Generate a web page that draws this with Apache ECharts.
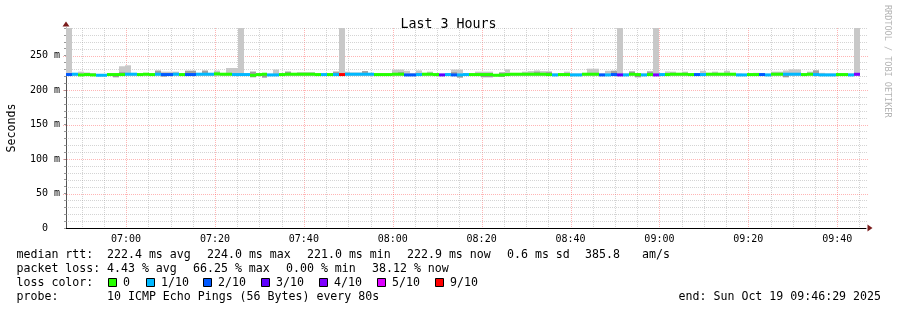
<!DOCTYPE html>
<html><head><meta charset="utf-8">
<script src="https://cdn.jsdelivr.net/npm/echarts@6/dist/echarts.min.js"></script>
<style>html,body{margin:0;padding:0;background:#fff}#c{width:897px;height:310px}</style>
</head><body><div id="c"></div>
<script>
const chartTitle = 'Last 3 Hours';
const yAxisTitle = 'Seconds';
const watermark = 'RRDTOOL / TOBI OETIKER';
const startTime = '06:46:29';
const endTime = '09:46:29';
const stepSeconds = 80;
const xLabelTimes = ['07:00','07:20','07:40','08:00','08:20','08:40','09:00','09:20','09:40'];
const yLabelValues = [0,50,100,150,200,250];

// median round-trip time per 80 s step (ms)
const medianRtt = [
222.5,223.0,222.0,222.5,222.0,221.5,221.5,222.5,222.5,222.5,
223.0,223.0,222.5,223.0,222.5,223.0,222.5,222.5,223.0,222.5,
222.5,222.5,223.0,223.0,223.0,223.5,223.0,223.0,222.5,222.5,
222.5,221.5,222.5,223.0,222.0,222.0,222.5,223.0,223.0,223.0,
223.0,223.0,222.5,222.5,222.5,222.5,222.5,223.0,223.0,223.0,
223.0,223.0,222.5,222.5,222.5,223.0,223.0,222.0,222.0,222.5,
223.0,223.0,222.5,222.0,222.5,222.0,222.0,222.5,222.5,222.5,
222.5,222.5,221.5,222.0,222.5,223.0,223.0,223.0,223.0,223.0,
223.0,222.5,222.0,222.5,222.5,222.0,222.0,223.0,223.0,223.0,
222.0,222.0,222.5,222.0,222.0,223.0,222.5,222.0,222.5,222.0,
222.5,222.5,223.0,223.0,223.0,222.5,222.5,222.5,223.0,223.0,
223.0,223.0,223.0,222.0,222.0,222.5,222.5,222.5,222.0,223.0,
223.0,223.0,223.0,223.0,222.5,223.0,222.5,222.0,222.0,222.0,
222.5,222.5,222.0,222.9];
// lost pings out of 10 per step
const lossCount = [
2,1,0,0,0,1,1,0,0,0,
1,1,0,0,0,1,2,2,1,0,
2,2,1,1,1,0,0,0,1,1,
1,0,0,0,1,1,0,0,0,0,
0,0,0,1,0,1,9,1,1,1,
1,1,0,0,0,0,0,2,2,1,
0,0,0,3,1,2,1,1,0,0,
0,0,0,0,0,0,0,0,0,0,
0,0,1,0,0,1,1,0,0,0,
2,1,2,3,1,0,0,1,0,4,
1,0,0,0,0,0,2,1,0,0,
0,0,0,1,1,0,0,2,1,0,
0,1,1,1,0,0,1,1,1,1,
0,0,1,4];
// highest ping per step (ms)
const smokeHigh = [
300,224.5,226.7,225.5,224.8,223.0,223.0,223.8,223.8,234.5,
235.9,224.5,224.0,224.5,224.0,228.2,226.7,226.7,226.7,224.0,
228.0,228.0,224.0,228.2,224.0,228.2,224.5,232.0,232.0,300,
224.0,226.7,224.0,224.0,223.5,229.7,224.0,226.7,224.5,226.0,
226.0,226.0,224.0,224.0,224.0,226.7,300,226.7,225.5,225.5,
227.5,224.0,224.0,224.0,224.0,229.7,229.7,228.0,224.5,228.5,
224.0,226.7,224.0,223.5,224.0,229.7,229.7,224.0,224.0,226.7,
226.7,226.7,223.0,225.5,230.0,224.0,224.0,226.7,227.5,228.5,
227.5,226.7,224.0,224.0,226.7,224.0,224.0,224.0,231.0,231.0,
224.0,228.0,228.0,300,224.0,227.0,224.0,224.0,227.0,300,
224.0,227.0,226.7,224.0,226.7,224.0,224.0,228.0,224.0,226.7,
224.0,228.0,224.0,224.0,223.5,224.0,225.0,224.0,223.5,226.7,
226.7,228.5,230.0,230.0,224.0,226.7,228.5,225.0,224.0,224.0,
224.0,224.0,224.0,300];
// upper edge of the dense (darker) part of the smoke, 0 = none
const smokeDark = [
224,0,0,0,0,0,0,0,0,226,
0,0,0,0,0,228.2,0,0,0,0,
228,228,0,228.2,0,0,0,0,0,0,
0,226.7,0,0,0,0,0,226.7,0,0,
0,0,0,0,0,226.7,0,0,0,0,
227.5,0,0,0,0,0,226,0,0,0,
0,0,0,0,0,226,0,0,0,0,
0,0,0,225.5,0,0,0,0,0,226.5,
0,226.7,0,0,0,0,0,0,0,0,
0,0,228,0,0,227,0,0,227,0,
0,0,0,0,0,0,0,0,0,0,
0,0,0,0,0,0,0,0,0,0,
0,0,0,0,0,0,228.5,0,0,0,
0,0,0,0];
// lowest ping per step (ms)
const smokeLow = [
221,221,221,221,221,220.5,220.5,221,218.5,221,
221,221,221,221,221,221,219.5,221,221,221,
221,221,221,221,221,221,221,221,221,221,
221,218.5,221,218,221,221,221,221,221,221,
221,221,221,221,221,221,221,221,221,221,
221,221,221,221,221,221,221,221,221,221,
221,221,221,221,221,221,218,221,221,221,
218.5,218.5,220.5,219,221,221,221,221,221,221,
221,221,221,221,221,221,221,221,221,221,
221,221,221,221,221,221,218.5,221,221,221,
221,221,221,221,221,221,221,221,221,221,
221,221,221,221,221,221,221,221,221,221,
221,218.5,221,221,221,221,221,221,221,221,
221,221,221,221];

const lossLegend = ['0','1/10','2/10','3/10','4/10','5/10','9/10'];
const lossColors = ['#26ff00','#00b8ff','#0059ff','#5e00ff','#7e00ff','#dd00ff','#ff0000'];
const statsRtt = ['222.4 ms avg','224.0 ms max','221.0 ms min','222.9 ms now','0.6 ms sd','385.8','am/s'];
const statsLoss = ['4.43 % avg','66.25 % max','0.00 % min','38.12 % now'];
const probeText = '10 ICMP Echo Pings (56 Bytes) every 80s';
const endText = 'end: Sun Oct 19 09:46:29 2025';

const MONO = '"DejaVu Sans Mono", "Liberation Mono", monospace';
function hm(s){const p=s.split(':').map(Number);return p[0]*60+p[1]+(p[2]||0)/60;}
function fmt(v){const t=Math.round(v);const h=Math.floor(t/60),m=t%60;return String(h).padStart(2,'0')+':'+String(m).padStart(2,'0');}
const xMin = hm(startTime), xMax = hm(endTime);
const stepMin = stepSeconds/60;
const majorX = xLabelTimes.map(hm);

function lossColor(n){
  if (n>=9) return lossColors[6];
  if (n>=5) return lossColors[5];
  return lossColors[n];
}

const stepData = medianRtt.map((m,i)=>[xMin+i*stepMin, xMin+(i+1)*stepMin, m, lossCount[i], smokeHigh[i], smokeDark[i], smokeLow[i]]);

const gridData = [];
for (let t = Math.ceil(xMin/5)*5; t < xMax; t += 5) gridData.push([0, t, majorX.some(v=>Math.abs(v-t)<1e-6)?1:0]);
for (let v = 10; v <= 290; v += 10) gridData.push([1, v, yLabelValues.indexOf(v)>=0?1:0]);

function renderGrid(params, api){
  const cs = params.coordSys;
  const kind = api.value(0), pos = api.value(1), major = api.value(2);
  const stroke = major ? 'rgba(255,70,70,0.4)' : 'rgba(160,160,160,0.45)';
  if (kind === 0){
    const x = Math.round(api.coord([pos,0])[0])+0.5;
    return {type:'line', silent:true, shape:{x1:x,y1:cs.y,x2:x,y2:cs.y+cs.height}, style:{stroke,lineWidth:1,lineDash:[1,1]}};
  }
  const y = Math.round(api.coord([xMin,pos])[1])+0.5;
  return {type:'line', silent:true, shape:{x1:cs.x-(major?3:0),y1:y,x2:cs.x+cs.width+(major?3:2),y2:y}, style:{stroke,lineWidth:1,lineDash:[1,1]}};
}

function renderStep(params, api){
  const t0=api.value(0), t1=api.value(1), med=api.value(2), loss=api.value(3), hi=api.value(4), dk=api.value(5), lo=api.value(6);
  const xa = Math.round(api.coord([t0,med])[0]);
  const xb = Math.round(api.coord([t1,med])[0]);
  const w = xb-xa;
  const ym = api.coord([t0,med])[1];
  const yhi = api.coord([t0,hi])[1];
  const ylo = api.coord([t0,lo])[1];
  const children = [];
  children.push({type:'rect', shape:{x:xa,y:yhi,width:w,height:ym-yhi}, style:{fill:'#c8c8c8'}});
  if (dk > med){
    const yd = api.coord([t0,dk])[1];
    children.push({type:'rect', shape:{x:xa,y:yd,width:w,height:ym-yd}, style:{fill:'#a2a2a2'}});
  }
  if (ylo > ym){
    children.push({type:'rect', shape:{x:xa,y:ym,width:w,height:ylo-ym}, style:{fill:'#9a9a9a'}});
  }
  children.push({type:'rect', shape:{x:xa,y:ym-1.5,width:w,height:3}, style:{fill:lossColor(loss)}});
  return {type:'group', children};
}

const graphics = [];
function txt(x,y,s,opts){
  graphics.push(Object.assign({type:'text', x, y, silent:true, style:{text:s, font:'11.6px '+MONO, fill:'#000', align:'left', textAlign:'left', verticalAlign:'middle', textVerticalAlign:'middle'}}, opts||{}));
}
txt(16.5,255,'median rtt:');
[107,207,307,407,507,585,642].forEach((x,i)=>txt(x,255,statsRtt[i]));
txt(16.5,268.5,'packet loss:');
[107,193,286,372].forEach((x,i)=>txt(x,268.5,statsLoss[i]));
txt(16.5,282.5,'loss color:');
const sqX = [108,146,203,261,319,377,435];
lossLegend.forEach((lab,i)=>{
  graphics.push({type:'rect', silent:true, shape:{x:sqX[i]+0.5,y:278.5,width:8,height:8}, style:{fill:lossColors[i], stroke:'#000', lineWidth:1}});
  txt(sqX[i]+15,282.5,lab);
});
txt(16.5,296.5,'probe:'); txt(107,296.5,probeText);
graphics.push({type:'text', x:881, y:296.5, silent:true, style:{text:endText, font:'11.6px '+MONO, fill:'#000', align:'right', textAlign:'right', verticalAlign:'middle', textVerticalAlign:'middle'}});
graphics.push({type:'text', x:887, y:5, rotation:-Math.PI/2, silent:true, style:{text:watermark, font:'8.5px '+MONO, fill:'#b4b4b4', align:'left', textAlign:'left', verticalAlign:'middle', textVerticalAlign:'middle'}});

const chart = echarts.init(document.getElementById('c'), null, {renderer:'canvas'});
chart.setOption({
  animation:false,
  backgroundColor:'#fff',
  title:{text:chartTitle, left:'center', top:13, textStyle:{fontFamily:MONO, fontSize:13.3, fontWeight:'normal', color:'#000'}},
  grid:{left:66, right:31, top:28, bottom:82, containLabel:false, outerBoundsMode:'none'},
  xAxis:[
    {type:'value', min:xMin, max:xMax, splitLine:{show:false},
     axisLine:{show:true, onZero:false, lineStyle:{color:'#000', width:1}},
     axisTick:{show:false},
     axisLabel:{customValues:majorX, formatter:v=>fmt(v), fontFamily:MONO, fontSize:10, color:'#000', margin:6}},
    {type:'value', min:xMin, max:xMax, position:'bottom', splitLine:{show:false},
     axisLine:{show:true, onZero:false, symbol:['none','triangle'], symbolSize:[7,5], symbolOffset:[0,4], lineStyle:{color:'#7a1c1c', width:0}},
     axisTick:{show:false}, axisLabel:{show:false}}
  ],
  yAxis:[
    {type:'value', min:0, max:290, interval:10, splitLine:{show:false},
     axisLine:{show:true, lineStyle:{color:'#555', width:1}},
     axisTick:{show:true, length:2, lineStyle:{color:'#999'}},
     axisLabel:{formatter:v=>yLabelValues.indexOf(v)<0?'':(v===0?'0\u00a0\u00a0':v+' m'), fontFamily:MONO, fontSize:10, color:'#000', margin:6, hideOverlap:false},
     name:yAxisTitle, nameLocation:'middle', nameGap:48, nameRotate:90,
     nameTextStyle:{fontFamily:MONO, fontSize:11.6, color:'#000'}},
    {type:'value', min:0, max:290, position:'left', splitLine:{show:false},
     axisLine:{show:true, onZero:false, symbol:['none','triangle'], symbolSize:[7,5], symbolOffset:[0,4], lineStyle:{color:'#7a1c1c', width:0}},
     axisTick:{show:false}, axisLabel:{show:false}}
  ],
  series:[
    {type:'custom', name:'grid', xAxisIndex:0, yAxisIndex:0, silent:true, z:1, renderItem:renderGrid, data:gridData},
    {type:'custom', name:'median rtt', xAxisIndex:0, yAxisIndex:0, silent:true, z:3, clip:true, renderItem:renderStep, encode:{x:[0,1], y:[2]}, data:stepData}
  ],
  graphic:graphics
});
</script>
</body></html>
